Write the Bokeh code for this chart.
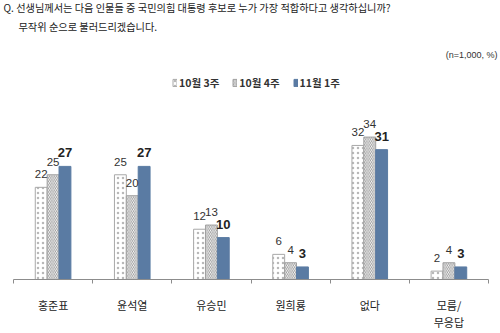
from bokeh.plotting import figure
from bokeh.models import (ColumnDataSource, Range1d, LinearAxis, FixedTicker,
                          Label, Legend, LegendItem)
from bokeh.transform import dodge
from bokeh.core.properties import value
from bokeh.embed import file_html
from bokeh.resources import INLINE

categories = ["홍준표", "윤석열", "유승민", "원희룡", "없다", "모름/\n무응답"]
series_names = ["10월 3주", "10월 4주", "11월 1주"]
oct_w3 = [22, 25, 12, 6, 32, 2]
oct_w4 = [25, 20, 13, 4, 34, 4]
nov_w1 = [27, 27, 10, 3, 31, 3]

title_line1 = "Q. 선생님께서는 다음 인물들 중 국민의힘 대통령 후보로 누가 가장 적합하다고 생각하십니까?"
title_line2 = "무작위 순으로 불러드리겠습니다."
note = "(n=1,000, %)"

KR = "Noto Sans CJK KR"
NUM = "Liberation Sans"
BLUE = "#5a7ba3"

n = len(categories)
centers = [i + 0.5 for i in range(n)]
src = ColumnDataSource(dict(x=centers, s1=oct_w3, s2=oct_w4, s3=nov_w1,
                            t1=[str(v) for v in oct_w3],
                            t2=[str(v) for v in oct_w4],
                            t3=[str(v) for v in nov_w1]))

unit_px = 475 / n
p = figure(width=500, height=333, x_range=Range1d(-13 / unit_px, n + 12 / unit_px),
           y_range=Range1d(0, 66.6),
           output_backend="svg", toolbar_location=None, x_axis_location=None, y_axis_location=None,
           min_border_left=0, min_border_right=0, min_border_top=0, min_border_bottom=48)
p.outline_line_color = None
p.grid.grid_line_color = None
p.background_fill_color = "white"
p.border_fill_color = "white"

bw = 0.15
r1 = p.vbar(x=dodge("x", -bw), top="s1", width=bw, source=src,
            fill_color="white", line_color="#a8a8a8", line_width=1,
            hatch_pattern="dot", hatch_color="#b8b8b8", hatch_scale=5, hatch_weight=1)
r2 = p.vbar(x=dodge("x", 0), top="s2", width=bw, source=src,
            fill_color="white", line_color="#a0a0a0", line_width=1,
            hatch_pattern="left_diagonal_line", hatch_color="#707070", hatch_scale=3.5, hatch_weight=0.7)
r3 = p.vbar(x=dodge("x", bw), top="s3", width=bw, source=src,
            fill_color=BLUE, line_color=BLUE, line_width=1)

p.text(x=dodge("x", -bw), y="s1", text="t1", source=src,
       text_align="center", text_baseline="bottom", y_offset=-9,
       text_font=value(NUM), text_font_size="11.5px", text_color="#333333")
p.text(x=dodge("x", 0), y="s2", text="t2", source=src,
       text_align="center", text_baseline="bottom", y_offset=-9,
       text_font=value(NUM), text_font_size="11.5px", text_color="#333333")
p.text(x=dodge("x", bw), y="s3", text="t3", source=src,
       text_align="center", text_baseline="bottom", y_offset=-9,
       text_font=value(NUM), text_font_size="13px", text_font_style="bold", text_color="#222222")

xaxis = LinearAxis(ticker=FixedTicker(ticks=centers, minor_ticks=list(range(n + 1))),
                   bounds=(0, n),
                   major_label_overrides={c: lab for c, lab in zip(centers, categories)},
                   axis_line_color="#8c8c8c", major_tick_line_color=None,
                   minor_tick_line_color="#8c8c8c", minor_tick_in=0, minor_tick_out=4,
                   major_label_standoff=11, major_label_text_font=KR,
                   major_label_text_font_size="11px", major_label_text_color="#222222",
                   major_label_text_line_height=1.1)
p.add_layout(xaxis, "below")

legend = Legend(items=[LegendItem(label=series_names[0], renderers=[r1]),
                       LegendItem(label=series_names[1], renderers=[r2]),
                       LegendItem(label=series_names[2], renderers=[r3])],
                orientation="horizontal", location=(172, 189),
                glyph_width=5, glyph_height=9, label_standoff=2, spacing=13,
                padding=0, margin=0, border_line_color=None, background_fill_alpha=0,
                label_text_font=KR, label_text_font_size="10.5px", label_text_font_style="bold",
                label_text_color="#333333", label_height=12)
p.add_layout(legend, "center")

p.add_layout(Label(x=3, y=272.5, x_units="screen", y_units="screen", text=title_line1,
                   text_font=KR, text_font_size="10.2px", text_color="#222222", text_baseline="middle"))
p.add_layout(Label(x=18, y=253, x_units="screen", y_units="screen", text=title_line2,
                   text_font=KR, text_font_size="10.2px", text_color="#222222", text_baseline="middle"))
p.add_layout(Label(x=497, y=225, x_units="screen", y_units="screen", text=note,
                   text_font=NUM, text_font_size="9px", text_color="#333333",
                   text_baseline="middle", text_align="right"))

open("out.html", "w").write(file_html(p, INLINE))
